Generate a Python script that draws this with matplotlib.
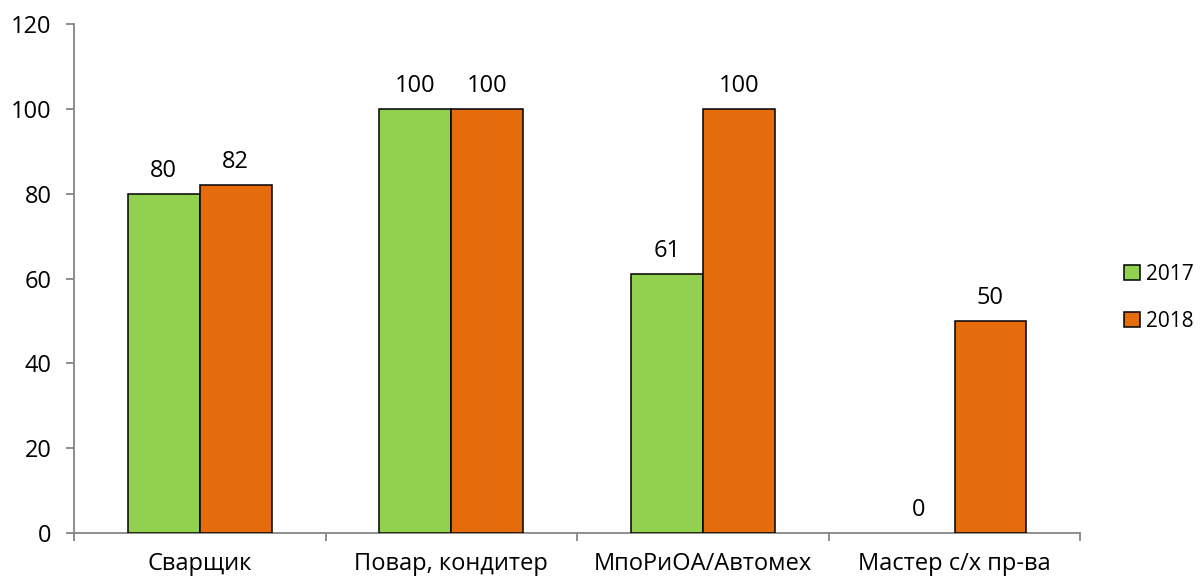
import matplotlib.pyplot as plt
import numpy as np

categories = ['Сварщик', 'Повар, кондитер', 'МпоРиОА/Автомех', 'Мастер с/х пр-ва']
values_2017 = [80, 100, 61, 0]
values_2018 = [82, 100, 100, 50]
series_names = ['2017', '2018']
colors = ['#92D050', '#E46C0A']

plt.rcParams['font.family'] = ['Open Sans', 'DejaVu Sans']
plt.rcParams['font.size'] = 17

fig = plt.figure(figsize=(12.03, 5.81), dpi=100)
ax = fig.add_axes([0.0615, 0.0826, 0.8365, 0.8761])

x = np.arange(len(categories))
w = 0.286
for i, (vals, name) in enumerate([(values_2017, series_names[0]), (values_2018, series_names[1])]):
    pos = x + (i - 0.5) * w
    bars = ax.bar(pos, vals, w, color=colors[i], edgecolor='black', linewidth=1.1,
                  label=name, zorder=3)
    for b, v in zip(bars, vals):
        if v == 0:
            b.set_linewidth(0)
        ax.annotate(str(v), (b.get_x() + b.get_width() / 2, v), xytext=(0, 8),
                    textcoords='offset points', ha='center', va='bottom', fontsize=17)

ax.set_xlim(-0.5, len(categories) - 0.5)
ax.set_ylim(0, 120)
ax.set_yticks(range(0, 121, 20))
ax.set_xticks(x)
ax.set_xticklabels(categories)
ax.set_xticks(np.arange(-0.5, len(categories), 1), minor=True)
ax.tick_params(axis='x', which='major', length=0, pad=14)
ax.tick_params(axis='x', which='minor', length=6, color='#868686', width=1.3)
ax.tick_params(axis='y', length=6, color='#868686', width=1.3, pad=10)

for s in ['top', 'right']:
    ax.spines[s].set_visible(False)
for s in ['left', 'bottom']:
    ax.spines[s].set_color('#868686')
    ax.spines[s].set_linewidth(1.3)

ax.legend(loc='center left', bbox_to_anchor=(0.926, 0.487), bbox_transform=fig.transFigure,
          frameon=False, borderpad=0, handlelength=0.75, handleheight=0.75, handletextpad=0.3,
          labelspacing=1.25, fontsize=15)

fig.savefig('out.png', dpi=100)
